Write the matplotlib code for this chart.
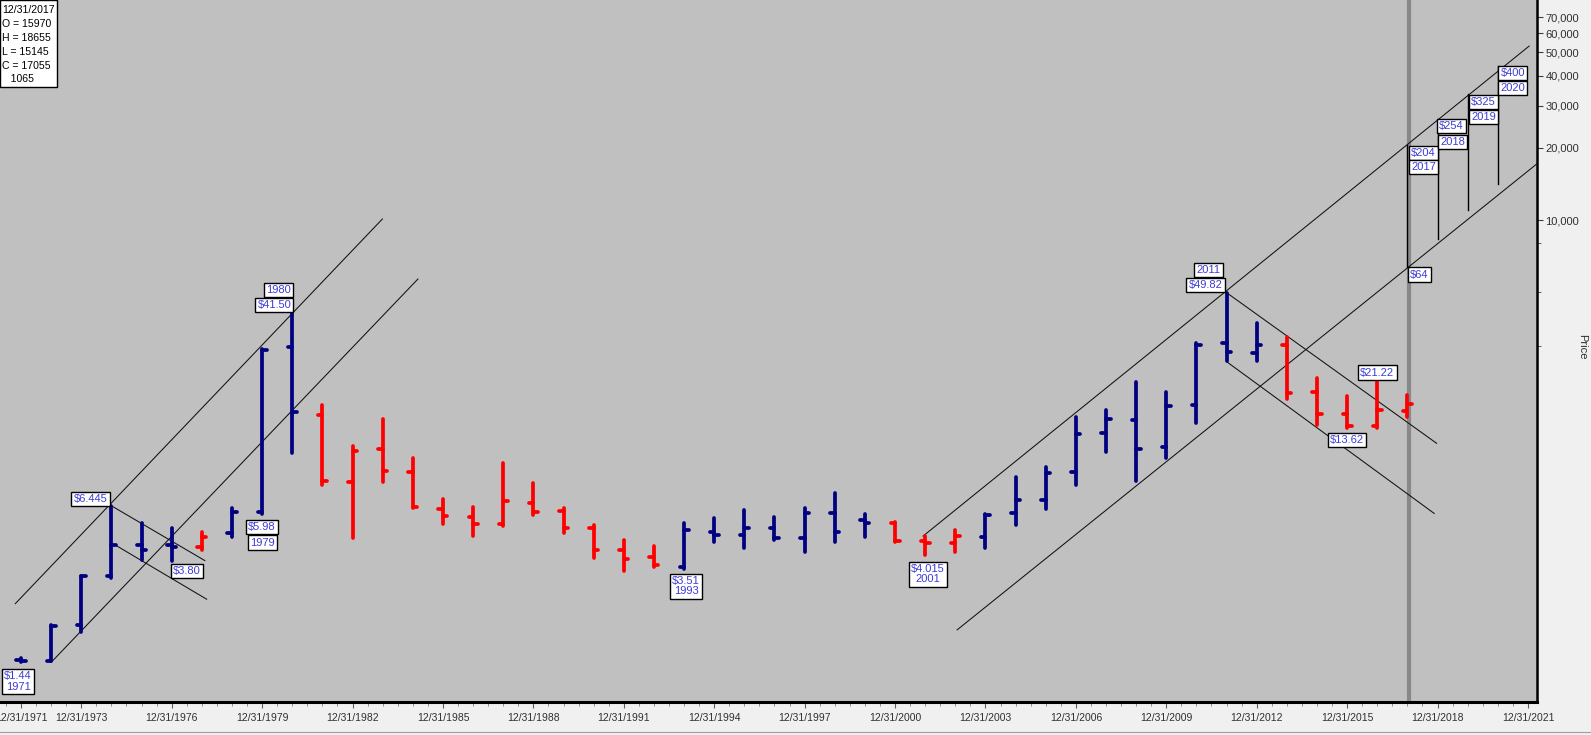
import numpy as np
import matplotlib
matplotlib.use("Agg")
import matplotlib.pyplot as plt
from matplotlib.collections import LineCollection
from matplotlib.patches import Rectangle
from matplotlib.lines import Line2D
import matplotlib.ticker as mticker

plt.rcParams['font.family'] = ['Liberation Sans', 'DejaVu Sans']

# ---------------- data ----------------
years = list(range(1971, 2018))
opens = [1.47, 1.45, 2.05, 3.29, 4.43, 4.43, 4.36, 4.96, 6.09, 29.7,
         15.4, 8.12, 11.1, 8.93, 6.23, 5.80, 5.41, 6.61, 6.16, 5.19,
         4.22, 3.93, 3.59, 5.03, 4.87, 5.19, 4.72, 5.99, 5.62, 5.45,
         4.61, 4.49, 4.79, 6.03, 6.81, 8.93, 12.9, 14.7, 11.3, 16.9,
         30.6, 28.0, 30.2, 19.2, 15.5, 13.8, 15.97]
highs = [1.49, 2.05, 3.29, 6.445, 5.47, 5.20, 5.03, 6.31, 29.0, 41.50,
         16.9, 11.4, 14.8, 10.2, 6.86, 6.35, 9.70, 8.03, 6.29, 5.35,
         4.64, 4.39, 5.45, 5.75, 6.19, 5.80, 6.29, 7.32, 5.94, 5.53,
         4.82, 5.11, 5.94, 8.49, 9.33, 15.1, 16.2, 21.2, 19.2, 30.6,
         49.82, 37.3, 32.7, 22.0, 18.5, 21.22, 18.655]
lows = [1.44, 1.45, 1.92, 3.22, 3.83, 3.80, 4.22, 4.77, 5.98, 10.7,
        7.86, 4.72, 8.12, 6.29, 5.39, 4.82, 5.31, 5.89, 4.98, 3.91,
        3.45, 3.57, 3.51, 4.57, 4.28, 4.64, 4.15, 4.57, 4.79, 4.57,
        4.015, 4.15, 4.28, 5.35, 6.23, 7.86, 10.8, 8.2, 10.2, 14.3,
        25.9, 25.9, 18.0, 14.0, 13.62, 13.58, 15.145]
closes = [1.45, 2.04, 3.28, 4.43, 4.22, 4.35, 4.79, 6.09, 28.7, 15.9,
          8.20, 10.9, 9.02, 6.35, 5.85, 5.41, 6.75, 6.09, 5.23, 4.22,
          3.86, 3.65, 5.11, 4.87, 5.19, 4.72, 5.99, 5.03, 5.45, 4.61,
          4.49, 4.82, 5.89, 6.81, 8.83, 12.8, 14.8, 11.1, 16.8, 30.2,
          28.2, 30.2, 19.1, 15.5, 13.8, 16.1, 17.055]
bar_dir = ['B', 'B', 'B', 'B', 'B', 'B', 'R', 'B', 'B', 'B',
           'R', 'R', 'R', 'R', 'R', 'R', 'R', 'R', 'R', 'R',
           'R', 'R', 'B', 'B', 'B', 'B', 'B', 'B', 'B', 'R',
           'R', 'R', 'B', 'B', 'B', 'B', 'B', 'B', 'B', 'B',
           'B', 'B', 'R', 'R', 'R', 'R', 'R']

# trend lines: (year0, price0, year1, price1)
trend_x0 = [1970.81, 1972.02, 1974.00, 1974.12, 2000.93, 2002.06, 2011.00, 2011.00]
trend_p0 = [2.52, 1.444, 6.445, 4.43, 4.82, 1.96, 49.82, 25.7]
trend_x1 = [1982.99, 1984.17, 1977.10, 1977.16, 2021.04, 2021.60, 2017.97, 2017.89]
trend_p1 = [101.0, 56.8, 3.81, 2.63, 531.0, 184.0, 11.74, 5.99]

# projection lines
proj_years = [2017, 2018, 2019, 2020]
proj_low = [64, 83, 110, 141]
proj_high = [205, 263, 335, 439]

# annotation boxes: text, anchor year, anchor price, offset pixels (dx, dy)
ann_text = ["$1.44\n1971", "$6.445", "$3.80", "$5.98", "1979", "$41.50", "1980",
            "$3.51\n1993", "$4.015\n2001", "$49.82", "2011", "$21.22", "$13.62",
            "$64", "$204", "2017", "$254", "2018", "$325", "2019", "$400", "2020"]
ann_year = [1971, 1974, 1976, 1979, 1979, 1980, 1980,
            1993, 2001, 2011, 2011, 2016, 2015,
            2017, 2017, 2017, 2018, 2018, 2019, 2019, 2020, 2020]
ann_price = [1.44, 6.445, 3.80, 5.98, 5.98, 41.50, 41.50,
             3.51, 4.015, 49.82, 49.82, 21.22, 13.62,
             64, 205, 205, 263, 263, 335, 335, 439, 439]
ann_dx = [-3, -21, 15, 0, 0, -18, -14, 2, 2.5, -21, -18, 0, 0,
          12, 16, 16, 14, 15, 16, 16, 15, 15]
ann_dy = [-19.5, 7, -10, -13.5, -29, 6.7, 21.7, -17, -19, 7.7, 22.7, 9, -12,
          -8, -8, -22, -7, -22.7, -7.7, -22.7, -7, -22]

xtick_years = [1971, 1973, 1976, 1979, 1982, 1985, 1988, 1991, 1994, 1997,
               2000, 2003, 2006, 2009, 2012, 2015, 2018, 2021]
xtick_labels = ["12/31/%d" % y for y in xtick_years]
right_ticks = [10000, 20000, 30000, 40000, 50000, 60000, 70000]
right_labels = ["10,000", "20,000", "30,000", "40,000", "50,000", "60,000", "70,000"]
right_minor = [3000, 5000, 8000]
CENTS = 100.0

info_lines = ["12/31/2017", "O = 15970", "H = 18655", "L = 15145", "C = 17055", "   1065"]

# ---------------- figure ----------------
W, H = 1591, 735
fig = plt.figure(figsize=(W / 100, H / 100), dpi=100, facecolor='#f0f0f0')
ax_l, ax_r, ax_t, ax_b = 0, 1537, 0, 702
ax = fig.add_axes([ax_l / W, 1 - ax_b / H, (ax_r - ax_l) / W, (ax_b - ax_t) / H])
ax.set_facecolor('#c0c0c0')
ax.set_yscale('log')
ax.set_xlim(1970.303, 2021.30)
ax.set_ylim(0.981, 826.0)

colmap = {'B': '#000080', 'R': '#ff0000'}
T = 0.15
segs, cols = [], []
for y, o, h, l, c, d in zip(years, opens, highs, lows, closes, bar_dir):
    col = colmap[d]
    segs += [[(y, l), (y, h)], [(y - T, o), (y, o)], [(y, c), (y + T, c)]]
    cols += [col] * 3
lc = LineCollection(segs, colors=cols, linewidths=2.7, capstyle='round', zorder=4)
ax.add_collection(lc)

# grey vertical marker line
ax.axvline(2017.04, color='#888888', lw=3.0, zorder=1)

# trend lines
for x0, p0, x1, p1 in zip(trend_x0, trend_p0, trend_x1, trend_p1):
    ax.plot([x0, x1], [p0, p1], color='#101010', lw=0.75, zorder=3)

# projection lines
for yr, lo, hi in zip(proj_years, proj_low, proj_high):
    ax.plot([yr, yr], [lo, hi], color='black', lw=1.0, zorder=3)

# annotations
for t, yr, pr, dx, dy in zip(ann_text, ann_year, ann_price, ann_dx, ann_dy):
    ax.annotate(t, xy=(yr, pr), xytext=(dx, dy), textcoords='offset pixels',
                ha='center', va='center', fontsize=8, color='#3c3cd8',
                linespacing=1.05, zorder=6,
                bbox=dict(boxstyle='square,pad=0.2', fc='white', ec='black', lw=1.0))

# axes styling
for s in ['top', 'left']:
    ax.spines[s].set_visible(False)
ax.spines['bottom'].set_linewidth(2.2)
ax.spines['right'].set_linewidth(1.8)
ax.spines['bottom'].set_color('black')
ax.spines['right'].set_color('black')

ax.set_xticks(xtick_years)
ax.set_xticklabels(xtick_labels, fontsize=7.5, color='#303030')
ax.xaxis.set_minor_locator(mticker.MultipleLocator(0.5))
ax.tick_params(axis='x', which='major', length=4, width=0.8, color='#606060', pad=4)
ax.tick_params(axis='x', which='minor', length=3, width=0.6, color='#808080')

ax.yaxis.tick_right()
ax.set_yticks([v / CENTS for v in right_ticks])
ax.set_yticklabels(right_labels, fontsize=8, color='#303030')
ax.set_yticks([v / CENTS for v in right_minor], minor=True)
ax.yaxis.set_minor_formatter(mticker.NullFormatter())
ax.tick_params(axis='y', which='major', length=4, width=0.8, color='#404040', pad=2)
ax.tick_params(axis='y', which='minor', length=3, width=0.7, color='#606060')

fig.text(1582 / W, 1 - 347 / H, "Price", rotation=270, ha='center', va='center',
         fontsize=8, color='#303030')

# info box top-left
fig.add_artist(Rectangle((0, 1 - 87 / H), 57 / W, 87 / H, transform=fig.transFigure,
                         fc='white', ec='black', lw=1.0, zorder=10))
for i, line in enumerate(info_lines):
    fig.text(2 / W, 1 - (10 + i * 13.9) / H, line, ha='left', va='center',
             fontsize=7.6, color='black', zorder=11)

fig.add_artist(Line2D([0, 1], [1 - 732 / H, 1 - 732 / H], transform=fig.transFigure,
                      color='#a0a0a0', lw=0.8))

fig.savefig('out.png', dpi=100, facecolor=fig.get_facecolor())
